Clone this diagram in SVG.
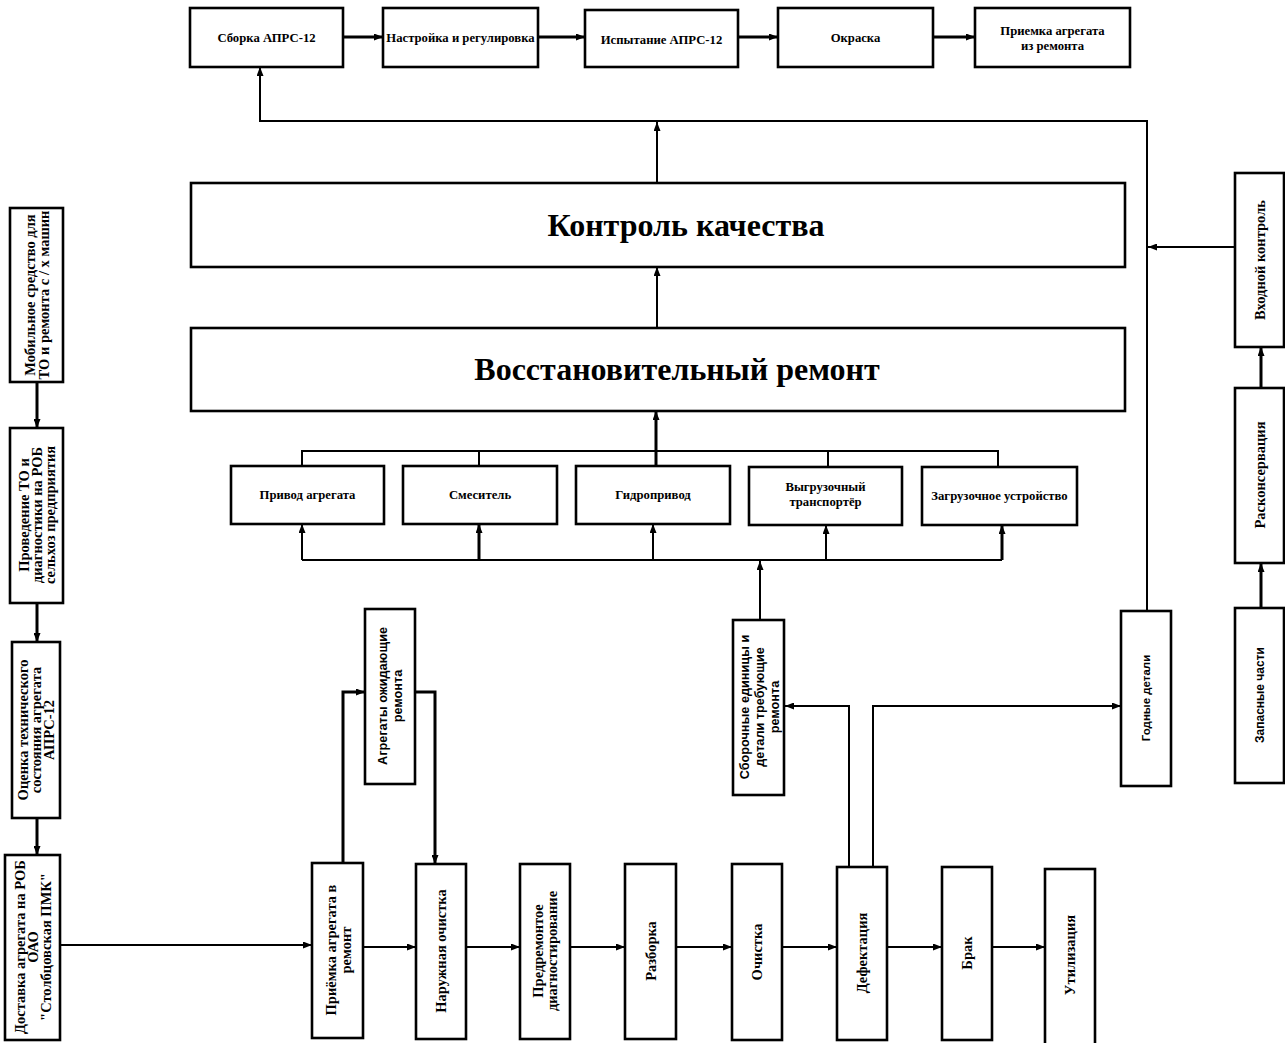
<svg xmlns="http://www.w3.org/2000/svg" width="1285" height="1043" viewBox="0 0 1285 1043">
<defs>
<marker id="arr" markerUnits="userSpaceOnUse" markerWidth="9" markerHeight="7" refX="9" refY="3.5" orient="auto">
<path d="M0,0 L9,3.5 L0,7 z" fill="#000"/>
</marker>
<style>
.box{fill:#fff;stroke:#000;stroke-width:2.6}
.t{font-family:"Liberation Serif","Times New Roman",serif;font-weight:bold;font-size:12.7px;fill:#000;text-anchor:middle}
.v{font-family:"Liberation Serif","Times New Roman",serif;font-weight:bold;font-size:14.5px;fill:#000;text-anchor:middle}
.s{font-family:"Liberation Sans",Arial,sans-serif;font-weight:bold;font-size:12.7px;fill:#000;text-anchor:middle}
.big{font-family:"Liberation Serif","Times New Roman",serif;font-weight:bold;font-size:32px;fill:#000;text-anchor:middle}
.c{fill:none;stroke:#000;stroke-width:2}
.ca{fill:none;stroke:#000;stroke-width:2;marker-end:url(#arr)}
.ct{fill:none;stroke:#000;stroke-width:3;marker-end:url(#arr)}
</style>
</defs>
<rect width="1285" height="1043" fill="#fff"/>

<g id="connectors">
<path class="ct" d="M343,37 H383"/>
<path class="ct" d="M538,37 H585"/>
<path class="ct" d="M738,37 H778"/>
<path class="ct" d="M933,37 H975"/>
<path class="ca" d="M1147,612 V121 H260 V67"/>
<path class="ca" d="M657,183 V122"/>
<path class="ca" d="M657,328 V267"/>
<path class="ca" d="M1235,247 H1148"/>
<path class="ct" d="M1261,388 V347"/>
<path class="ct" d="M1261,608 V563"/>
<path class="ct" d="M656,466 V411"/>
<path class="c" d="M302,466 V451 H998 V467"/>
<path class="c" d="M479,451 V466"/>
<path class="c" d="M828,451 V467"/>
<path class="c" d="M302,560 H1002"/>
<path class="ca" d="M302,560 V524"/>
<path class="ct" d="M479,560 V524"/>
<path class="ca" d="M653,560 V524"/>
<path class="ca" d="M826,560 V525"/>
<path class="ct" d="M1002,560 V525"/>
<path class="ca" d="M760,620 V561"/>
<path class="ct" d="M37,382 V428"/>
<path class="ct" d="M37,603 V642"/>
<path class="ct" d="M37,818 V855"/>
<path class="ca" d="M60,945 H312"/>
<path class="ct" d="M343,863 V692 H365"/>
<path class="ct" d="M415,692 H435 V864"/>
<path class="ca" d="M363,947 H416"/>
<path class="ca" d="M466,947 H520"/>
<path class="ca" d="M570,947 H625"/>
<path class="ca" d="M676,947 H732"/>
<path class="ca" d="M782,947 H837"/>
<path class="ca" d="M887,947 H942"/>
<path class="ca" d="M992,947 H1045"/>
<path class="ca" d="M849,867 V706 H785"/>
<path class="ca" d="M873,867 V706 H1121"/>
</g>

<g id="n-sborka"><rect class="box" x="190" y="8" width="153" height="59"/><text class="t" x="266.5" y="42">Сборка АПРС-12</text></g>
<g id="n-nastroyka"><rect class="box" x="383" y="8" width="155" height="59"/><text class="t" x="460.5" y="42">Настройка и регулировка</text></g>
<g id="n-ispytanie"><rect class="box" x="585" y="10" width="153" height="57"/><text class="t" x="661.5" y="44">Испытание АПРС-12</text></g>
<g id="n-okraska"><rect class="box" x="778" y="8" width="155" height="59"/><text class="t" x="855.5" y="42">Окраска</text></g>
<g id="n-priemka-iz"><rect class="box" x="975" y="8" width="155" height="59"/><text class="t" x="1052.5" y="35">Приемка агрегата<tspan x="1052.5" dy="15">из ремонта</tspan></text></g>

<g id="n-kontrol"><rect class="box" x="191" y="183" width="934" height="84"/><text class="big" x="686" y="236">Контроль качества</text></g>
<g id="n-vosst"><rect class="box" x="191" y="328" width="934" height="83"/><text class="big" x="677" y="380">Восстановительный ремонт</text></g>

<g id="n-privod"><rect class="box" x="231" y="466" width="153" height="58"/><text class="t" x="307.5" y="499">Привод агрегата</text></g>
<g id="n-smesitel"><rect class="box" x="403" y="466" width="154" height="58"/><text class="t" x="480" y="499">Смеситель</text></g>
<g id="n-gidro"><rect class="box" x="576" y="466" width="154" height="58"/><text class="t" x="653" y="499">Гидропривод</text></g>
<g id="n-vygruz"><rect class="box" x="749" y="467" width="153" height="58"/><text class="t" x="825.5" y="491">Выгрузочный<tspan x="825.5" dy="15">транспортёр</tspan></text></g>
<g id="n-zagruz"><rect class="box" x="922" y="467" width="155" height="58"/><text class="t" x="999.5" y="500">Загрузочное устройство</text></g>

<g id="n-mobil"><rect class="box" x="10" y="208" width="53" height="174"/><text class="v" transform="translate(36.5,295) rotate(-90)"><tspan x="0" y="-2">Мобильное средство для</tspan><tspan x="0" y="12">ТО и ремонта с / х машин</tspan></text></g>
<g id="n-provedenie"><rect class="box" x="10" y="428" width="53" height="175"/><text class="v" transform="translate(36.5,515) rotate(-90)"><tspan x="0" y="-8">Проведение ТО и</tspan><tspan x="0" y="5">диагностики на РОБ</tspan><tspan x="0" y="18">сельхоз предприятия</tspan></text></g>
<g id="n-ocenka"><rect class="box" x="12" y="642" width="48" height="176"/><text class="v" transform="translate(36,730) rotate(-90)"><tspan x="0" y="-8">Оценка технического</tspan><tspan x="0" y="5">состояния агрегата</tspan><tspan x="0" y="18">АПРС-12</tspan></text></g>
<g id="n-dostavka"><rect class="box" x="5" y="855" width="55" height="185"/><text class="v" transform="translate(32.5,947) rotate(-90)"><tspan x="0" y="-8">Доставка агрегата на РОБ</tspan><tspan x="0" y="5">ОАО</tspan><tspan x="0" y="18">"Столбцовская  ПМК"</tspan></text></g>

<g id="n-priemka"><rect class="box" x="312" y="863" width="51" height="175"/><text class="v" transform="translate(337.5,950) rotate(-90)"><tspan x="0" y="-2">Приёмка агрегата в</tspan><tspan x="0" y="13">ремонт</tspan></text></g>
<g id="n-naruzh"><rect class="box" x="416" y="864" width="50" height="175"/><text class="v" transform="translate(441,951) rotate(-90)"><tspan x="0" y="5">Наружная очистка</tspan></text></g>
<g id="n-predrem"><rect class="box" x="520" y="864" width="50" height="175"/><text class="v" transform="translate(545,951) rotate(-90)"><tspan x="0" y="-2">Предремонтое</tspan><tspan x="0" y="12">диагностирование</tspan></text></g>
<g id="n-razborka"><rect class="box" x="625" y="864" width="51" height="175"/><text class="v" transform="translate(650.5,951) rotate(-90)"><tspan x="0" y="5">Разборка</tspan></text></g>
<g id="n-ochistka"><rect class="box" x="732" y="864" width="50" height="176"/><text class="v" transform="translate(757,952) rotate(-90)"><tspan x="0" y="5">Очистка</tspan></text></g>
<g id="n-defekt"><rect class="box" x="837" y="867" width="50" height="173"/><text class="v" transform="translate(862,953) rotate(-90)"><tspan x="0" y="5">Дефектация</tspan></text></g>
<g id="n-brak"><rect class="box" x="942" y="867" width="50" height="173"/><text class="v" transform="translate(967,953) rotate(-90)"><tspan x="0" y="5">Брак</tspan></text></g>
<g id="n-util"><rect class="box" x="1045" y="869" width="50" height="176"/><text class="v" transform="translate(1070,955) rotate(-90)"><tspan x="0" y="5">Утилизация</tspan></text></g>

<g id="n-agregaty"><rect class="box" x="365" y="609" width="50" height="175"/><text class="s" transform="translate(390,696) rotate(-90)"><tspan x="0" y="-3">Агрегаты ожидающие</tspan><tspan x="0" y="12">ремонта</tspan></text></g>
<g id="n-sbor-ed"><rect class="box" x="733" y="620" width="51" height="175"/><text class="s" transform="translate(758.5,707) rotate(-90)"><tspan x="0" y="-10">Сборочные единицы и</tspan><tspan x="0" y="5">детали требующие</tspan><tspan x="0" y="20">ремонта</tspan></text></g>
<g id="n-godnye"><rect class="box" x="1121" y="611" width="50" height="175"/><text class="s" transform="translate(1146,698) rotate(-90)" style="font-size:11.5px"><tspan x="0" y="4">Годные детали</tspan></text></g>

<g id="n-vhodnoy"><rect class="box" x="1235" y="173" width="49" height="174"/><text class="v" transform="translate(1259.5,260) rotate(-90)"><tspan x="0" y="5">Входной контроль</tspan></text></g>
<g id="n-raskons"><rect class="box" x="1235" y="388" width="49" height="175"/><text class="v" transform="translate(1259.5,475) rotate(-90)"><tspan x="0" y="5">Расконсервация</tspan></text></g>
<g id="n-zapas"><rect class="box" x="1235" y="608" width="49" height="175"/><text class="s" transform="translate(1259.5,695) rotate(-90)" style="font-size:12px"><tspan x="0" y="4">Запасные части</tspan></text></g>
</svg>
